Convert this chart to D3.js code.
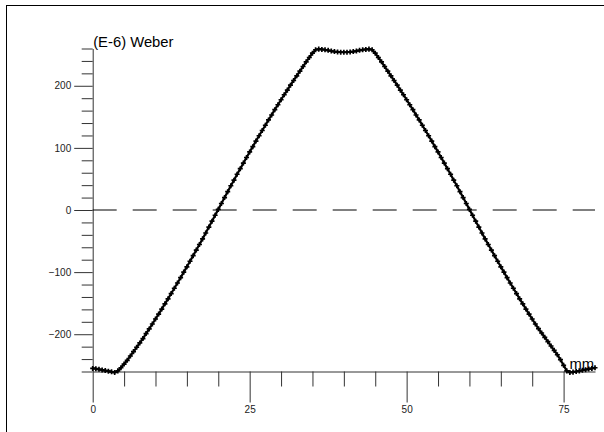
<!DOCTYPE html>
<html>
<head>
<meta charset="utf-8">
<script src="https://cdn.jsdelivr.net/npm/d3@7"></script>
<style>
  html, body { margin: 0; padding: 0; background: #fff; }
  svg { display: block; font-family: "Liberation Sans", Arial, sans-serif; }
</style>
</head>
<body>
<svg id="chart" width="604" height="432"></svg>
<script>
// Flux linkage (E-6 Weber) sampled every 0.5 mm from 0 to 80 mm
const sampleStep = 0.5;
const fluxValues = [
  -255, -255.5, -256.5, -257.5, -258.5, -259.5, -260.5, -261.5, -259, -254,
  -248, -242, -235, -228, -221, -214, -207, -199, -191.5, -183.5,
  -175.5, -167.5, -159.5, -151, -143, -134.5, -126, -117.5, -109, -100,
  -91.5, -82.5, -73.5, -64.5, -55.5, -46.5, -37, -27.5, -18, -8.5,
  1, 10.5, 20, 29.5, 39, 48, 57.5, 66.5, 75.5, 84.5,
  93.5, 102, 111, 119.5, 128, 136.5, 145, 153, 161.5, 169.5,
  177.5, 185.5, 193, 201, 208.5, 216, 223.5, 231, 238.5, 245.5,
  252.5, 258, 259, 258.5, 258, 257, 256, 255, 254.5, 254,
  254, 254, 254.5, 255, 256, 257, 258, 258.5, 259, 258,
  252.5, 245.5, 238.5, 231, 223.5, 216, 208.5, 201, 193, 185.5,
  177.5, 169.5, 161.5, 153, 145, 136.5, 128, 119.5, 111, 102,
  93.5, 84.5, 75.5, 66.5, 57.5, 48, 39, 29.5, 20, 10.5,
  1, -8.5, -18, -27.5, -37, -46.5, -55.5, -64.5, -73.5, -82.5,
  -91.5, -100, -109, -117.5, -126, -134.5, -143, -151, -159.5, -167.5,
  -175.5, -183.5, -191, -198, -205, -212, -219, -226, -233, -241,
  -250, -259, -261.5, -261, -260, -259, -258, -257, -256, -255,
  -254
];

// Axis ticks and labels
const xMajorTicks = [0, 25, 50, 75];
const xMinorTicks = [5, 10, 15, 20, 30, 35, 40, 45, 55, 60, 65, 70];
const yMajorTicks = [-200, -100, 0, 100, 200];
const yMinorTicks = [-260, -240, -220, -180, -160, -140, -120, -80, -60, -40, -20,
                     20, 40, 60, 80, 120, 140, 160, 180, 220, 240, 260];
const yUnitLabel = "(E-6) Weber";
const xUnitLabel = "mm";

const points = fluxValues.map((v, i) => ({ x: i * sampleStep, y: v }));

const svg = d3.select("#chart");
const axisColor = "#333";

// Outer frame
svg.append("rect")
  .attr("x", 6.5).attr("y", 5.5)
  .attr("width", 620).attr("height", 440)
  .attr("fill", "none").attr("stroke", "#000").attr("stroke-width", 1);

const x = d3.scaleLinear().domain([0, 80]).range([92.7, 595]);
const y = d3.scaleLinear().domain([-260, 260]).range([371.5, 48.5]);

// X axis: minor ticks, then major ticks with labels
const xAxisY = y(-260);
const xMinor = svg.append("g").attr("transform", `translate(0,${xAxisY})`)
  .call(d3.axisBottom(x).tickValues(xMinorTicks).tickSize(15).tickSizeOuter(0).tickFormat(""));
xMinor.select(".domain").remove();
const xMajor = svg.append("g").attr("transform", `translate(0,${xAxisY})`)
  .call(d3.axisBottom(x).tickValues(xMajorTicks).tickSize(31).tickSizeOuter(0).tickPadding(3).tickFormat(d3.format("d")));
xMajor.selectAll("text").attr("font-size", 10).attr("fill", "#222")
  .attr("font-family", "Liberation Sans, Arial, sans-serif");

// Y axis: minor ticks, then major ticks with labels
const yAxisX = x(0);
const yMinor = svg.append("g").attr("transform", `translate(${yAxisX},0)`)
  .call(d3.axisLeft(y).tickValues(yMinorTicks).tickSize(11).tickSizeOuter(0).tickFormat(""));
yMinor.select(".domain").remove();
const yMajor = svg.append("g").attr("transform", `translate(${yAxisX},0)`)
  .call(d3.axisLeft(y).tickValues(yMajorTicks).tickSize(18.5).tickSizeOuter(0).tickPadding(3).tickFormat(d3.format("d")));
yMajor.selectAll("text").attr("font-size", 10).attr("fill", "#222")
  .attr("font-family", "Liberation Sans, Arial, sans-serif");

svg.selectAll(".tick line, .domain").attr("stroke", axisColor).attr("stroke-width", 1);

// Zero reference line
svg.append("line")
  .attr("x1", x(0)).attr("x2", x(80))
  .attr("y1", y(0)).attr("y2", y(0))
  .attr("stroke", "#000").attr("stroke-width", 1)
  .attr("stroke-dasharray", "24,16");

// Unit labels
svg.append("text")
  .attr("x", yAxisX + 0.5).attr("y", 47)
  .attr("font-size", 14.8).attr("fill", "#000")
  .text(yUnitLabel);
svg.append("text")
  .attr("x", 569.5).attr("y", 368.5)
  .attr("font-size", 14.8).attr("fill", "#000")
  .text(xUnitLabel);

// Flux curve with point markers
const line = d3.line().x(d => x(d.x)).y(d => y(d.y));
svg.append("path")
  .datum(points)
  .attr("d", line)
  .attr("fill", "none").attr("stroke", "#000").attr("stroke-width", 2.2)
  .attr("stroke-linejoin", "round");

const cross = d3.symbol().type(d3.symbolCross).size(14);
svg.append("g").selectAll("path")
  .data(points)
  .join("path")
  .attr("transform", d => `translate(${x(d.x)},${y(d.y)})`)
  .attr("d", cross)
  .attr("fill", "#000");
</script>
</body>
</html>
